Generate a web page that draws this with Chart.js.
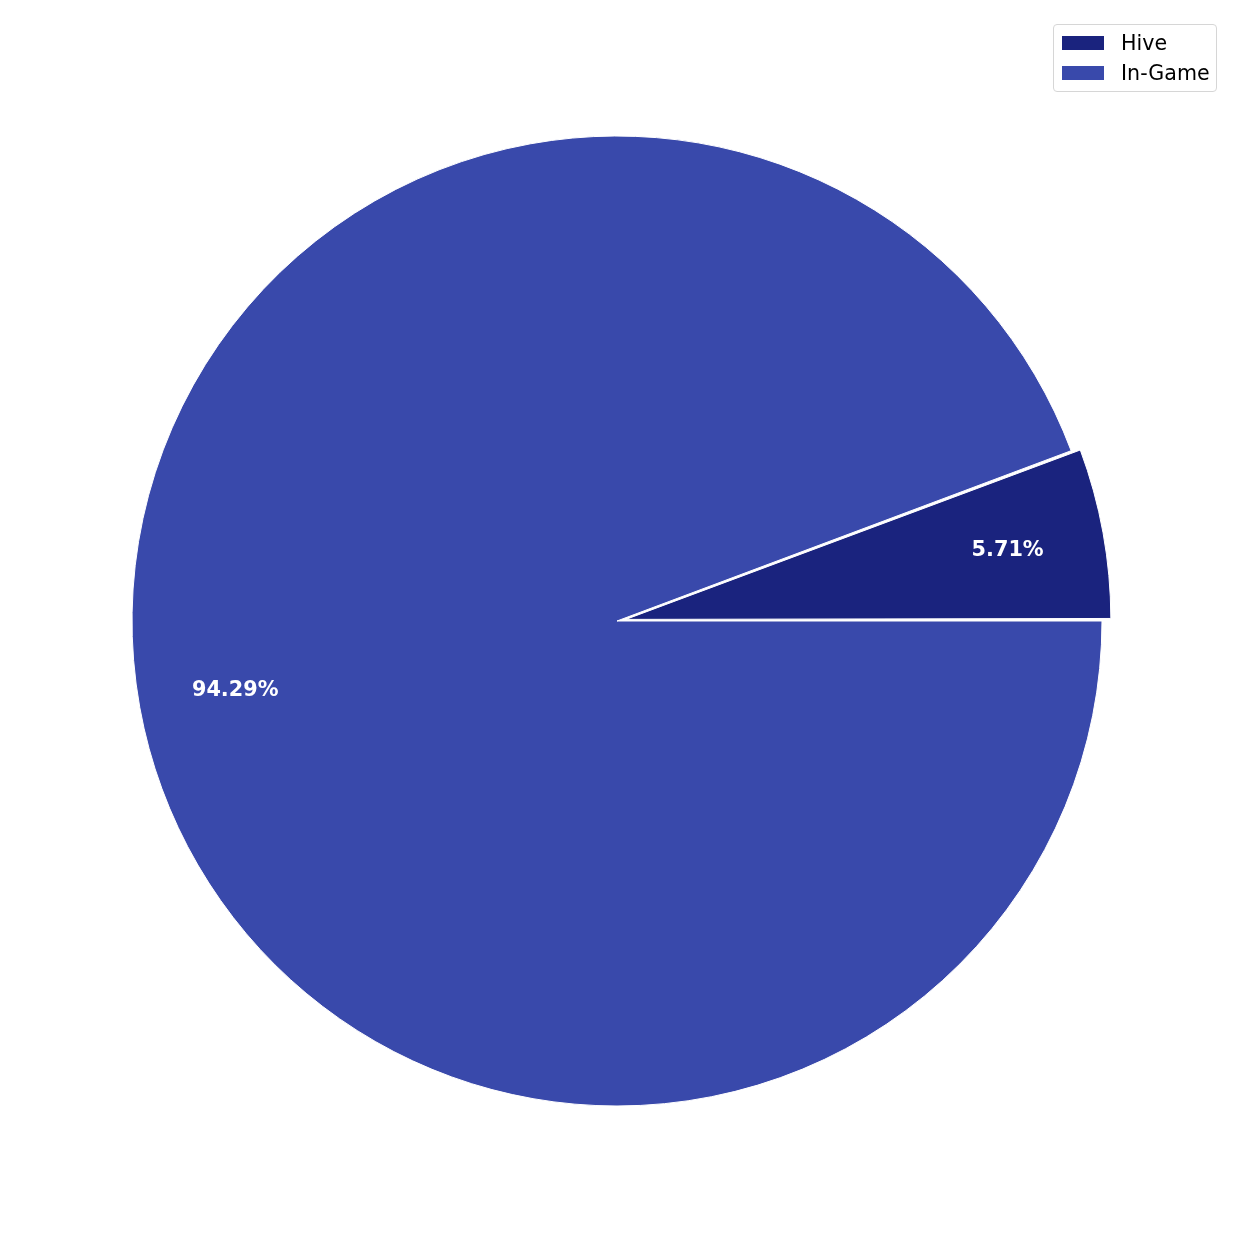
<!DOCTYPE html>
<html>
<head>
<meta charset="utf-8">
<script src="https://cdn.jsdelivr.net/npm/chart.js@4"></script>
<style>
  html, body { margin:0; padding:0; background:#fff; }
  #wrap { position:relative; width:1242px; height:1242px; }
  #c { position:absolute; left:0; top:0; }
  #legend { position:absolute; left:1053px; top:24px; width:164px; height:68px;
    border:1.5px solid #d6d6d6; border-radius:4px; background:rgba(255,255,255,0.8);
    font-family:'DejaVu Sans', sans-serif; font-size:20.6px; color:#000; box-sizing:border-box; }
  .item { position:absolute; left:8px; height:24px; display:flex; align-items:center; white-space:nowrap; }
  .sw { width:42px; height:14px; margin-right:17px; }
</style>
</head>
<body>
<div id="wrap">
  <canvas id="c" width="1242" height="1242"></canvas>
  <div id="legend"></div>
</div>
<script>
const categories = ['Hive', 'In-Game'];
const values = [5.71, 94.29];
const colors = ['#1a237e', '#3949ab'];
const explode = [36, 0];

const total = values.reduce((a, b) => a + b, 0);
const startRotation = 90 - 360 * values[0] / total;

// HTML legend
const legend = document.getElementById('legend');
categories.forEach((name, i) => {
  const it = document.createElement('div');
  it.className = 'item';
  it.style.top = (6 + i * 30) + 'px';
  const sw = document.createElement('div');
  sw.className = 'sw';
  sw.style.background = colors[i];
  const tx = document.createElement('span');
  tx.textContent = name;
  it.appendChild(sw); it.appendChild(tx);
  legend.appendChild(it);
});

const PIE_R = 485;

const fixExplode = {
  id: 'fixExplode',
  beforeDatasetsDraw(chart) {
    const meta = chart.getDatasetMeta(0);
    meta.data.forEach((el, i) => {
      const off = (explode[i] || 0) / 4;
      const circ = el.endAngle - el.startAngle;
      const fix = 1 - Math.sin(Math.min(Math.PI, circ || 0));
      el.outerRadius = meta.controller.outerRadius - off * fix;
    });
  }
};

const pctLabels = {
  id: 'pctLabels',
  afterDatasetsDraw(chart) {
    const ctx = chart.ctx;
    const meta = chart.getDatasetMeta(0);
    ctx.save();
    ctx.fillStyle = '#ffffff';
    ctx.font = 'bold 20.8px "DejaVu Sans"';
    ctx.textAlign = 'center';
    ctx.textBaseline = 'middle';
    meta.data.forEach((el, i) => {
      const mid = (el.startAngle + el.endAngle) / 2;
      const off = (explode[i] || 0) / 4;
      const r = 0.8 * meta.controller.outerRadius;
      const x = el.x + Math.cos(mid) * (r + off);
      const y = el.y + Math.sin(mid) * (r + off);
      const pct = (values[i] / total * 100).toFixed(2) + '%';
      ctx.fillText(pct, x, y);
    });
    ctx.restore();
  }
};

new Chart(document.getElementById('c'), {
  type: 'pie',
  data: {
    labels: categories,
    datasets: [{
      data: values,
      backgroundColor: colors,
      borderColor: '#ffffff',
      borderWidth: 1,
      offset: explode
    }]
  },
  options: {
    responsive: false,
    animation: false,
    devicePixelRatio: 1,
    rotation: startRotation,
    radius: PIE_R,
    layout: { padding: { left: 0, right: 8, top: 0, bottom: 0 } },
    plugins: {
      legend: { display: false },
      tooltip: { enabled: false }
    }
  },
  plugins: [fixExplode, pctLabels]
});
</script>
</body>
</html>
